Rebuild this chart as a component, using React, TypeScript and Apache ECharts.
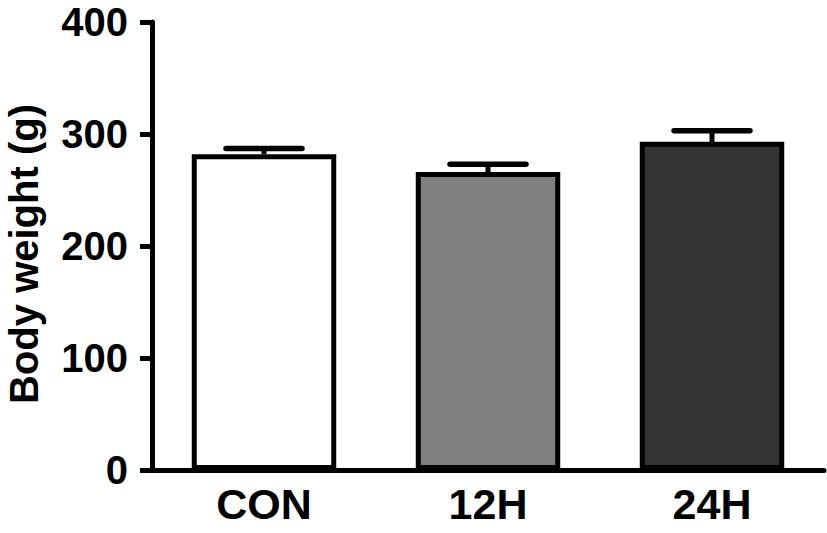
import React, { useEffect, useRef } from "react";
import * as echarts from "echarts";

const categories = ["CON", "12H", "24H"];
const meanValues = [282, 266, 293];
const semValues = [5, 7, 10];
const barColors = ["#ffffff", "#808080", "#333333"];
const yTicks = [0, 100, 200, 300, 400];
const yTitle = "Body weight (g)";

const FONT = "'Liberation Sans', Arial, Helvetica, sans-serif";

export default function App() {
  const ref = useRef<HTMLDivElement>(null);

  useEffect(() => {
    if (!ref.current) return;
    const chart = echarts.init(ref.current, null, { renderer: "svg" });
    const option: any = {
      animation: false,
      backgroundColor: "#ffffff",
      grid: { left: 152, right: 3, top: 22, bottom: 63, containLabel: false },
      graphic: [
        {
          type: "text",
          x: 24,
          y: 254,
          rotation: Math.PI / 2,
          style: {
            text: yTitle,
            fill: "#000",
            font: `bold 40px ${FONT}`,
            textAlign: "center",
            textVerticalAlign: "middle",
          },
        },
      ],
      xAxis: {
        type: "category",
        data: categories,
        boundaryGap: true,
        axisLine: { lineStyle: { color: "#000", width: 5 } },
        axisTick: { alignWithLabel: true, length: 13, lineStyle: { width: 5, color: "#000" } },
        axisLabel: {
          margin: 17,
          color: "#000",
          fontFamily: FONT,
          fontWeight: "bold",
          fontSize: 43,
          lineHeight: 34,
        },
      },
      yAxis: {
        type: "value",
        min: yTicks[0],
        max: yTicks[yTicks.length - 1],
        interval: 100,
        splitLine: { show: false },
        axisLine: { show: true, lineStyle: { color: "#000", width: 5 } },
        axisTick: { show: true, length: 12, lineStyle: { width: 5, color: "#000" } },
        axisLabel: {
          margin: 24,
          color: "#000",
          fontFamily: FONT,
          fontWeight: "bold",
          fontSize: 40,
          lineHeight: 30,
        },
      },
      series: [
        {
          type: "bar",
          barWidth: "64.5%",
          data: meanValues.map((v, i) => ({
            value: v,
            itemStyle: { color: barColors[i] },
          })),
          itemStyle: { borderColor: "#000", borderWidth: 5 },
          z: 2,
        },
        {
          type: "custom",
          z: 3,
          data: meanValues.map((v, i) => [i, v, v + semValues[i]]),
          renderItem: (params: any, api: any) => {
            const x = api.value(0);
            const base = api.coord([x, api.value(1)]);
            const top = api.coord([x, api.value(2)]);
            const half = 38;
            return {
              type: "group",
              children: [
                {
                  type: "line",
                  shape: { x1: base[0], y1: base[1], x2: top[0], y2: top[1] },
                  style: { stroke: "#000", lineWidth: 5 },
                },
                {
                  type: "line",
                  shape: { x1: top[0] - half, y1: top[1], x2: top[0] + half, y2: top[1] },
                  style: { stroke: "#000", lineWidth: 5.5, lineCap: "round" },
                },
              ],
            };
          },
        },
      ],
    };
    chart.setOption(option);
    return () => chart.dispose();
  }, []);

  return (
    <div
      ref={ref}
      style={{ position: "fixed", left: 0, top: 0, width: 827, height: 533, background: "#fff" }}
    />
  );
}
